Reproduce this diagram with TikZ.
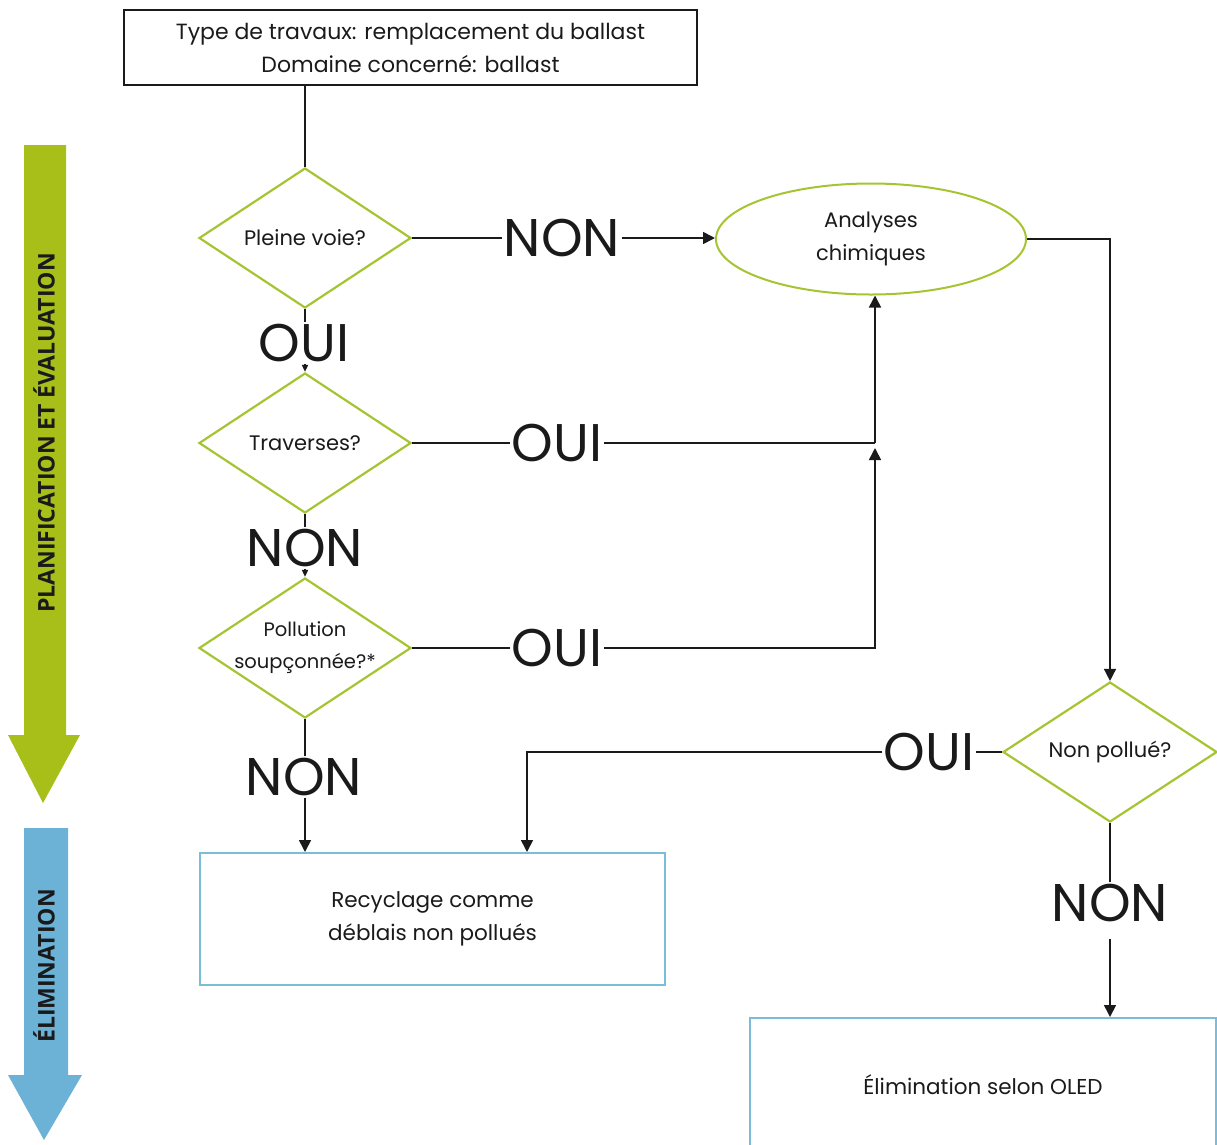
\documentclass[tikz,border=0pt]{standalone}
\usepackage{fontspec}
\setmainfont{Poppins}
\newfontfamily\sidefont{Open Sans}
\usetikzlibrary{shapes.geometric,arrows.meta,calc}
\definecolor{dgreen}{HTML}{A5C432}
\definecolor{agreen}{HTML}{A8BF1A}
\definecolor{ablue}{HTML}{6BB2D6}
\definecolor{bblue}{HTML}{7CBCDB}
\definecolor{ink}{HTML}{1A1A1A}
\begin{document}
\begin{tikzpicture}[x=1pt,y=-1pt,
  line width=1.6pt, draw=ink,
  dec/.style={diamond, draw=dgreen, line width=2.2pt, minimum width=212pt, minimum height=140pt, inner sep=0pt},
  dtext/.style={font=\fontsize{21}{32}\selectfont, align=center, text=ink, inner sep=0pt},
  ell/.style={ellipse, draw=dgreen, line width=2pt, minimum width=310pt, minimum height=111pt, inner sep=0pt, font=\fontsize{21}{33}\selectfont, align=center, text=ink},
  bbox/.style={rectangle, draw=bblue, line width=2pt, inner sep=0pt, font=\fontsize{21.5}{33}\selectfont, align=center, text=ink},
  kbox/.style={rectangle, draw=ink, line width=1.6pt, inner sep=0pt, font=\fontsize{22}{33}\selectfont, align=center, text=ink},
  ans/.style={font=\fontsize{53}{53}\selectfont, inner sep=1pt, text=ink},
  tipbig/.style={-{Triangle[length=12pt,width=12pt]}},
  tipsmall/.style={-{Triangle[length=7pt,width=6pt]}},
  sidetext/.style={rotate=90, font=\sidefont\bfseries\fontsize{23}{23}\selectfont, text=ink, inner sep=0pt}
]
\useasboundingbox (0,0) rectangle (1217,1144);
\clip (0,0) rectangle (1217,1144);

% side arrows
\fill[agreen] (24,145) -- (66,145) -- (66,735) -- (80,735) -- (43,803) -- (8,735) -- (24,735) -- cycle;
\fill[ablue] (24,828) -- (68,828) -- (68,1075) -- (82,1075) -- (44,1140) -- (8,1075) -- (24,1075) -- cycle;
\node[sidetext] (tplan) at (44,433) {PLANIFICATION ET ÉVALUATION};
\node[sidetext] (telim) at (44,966) {ÉLIMINATION};

% nodes
\node[kbox, minimum width=573pt, minimum height=75pt] (top) at (410.5,47.5) {Type de travaux: remplacement du ballast\\Domaine concerné: ballast};
\node[dec, label={[dtext]center:Pleine voie?}] (d1) at (305,238) {};
\node[dec, label={[dtext]center:Traverses?}] (d2) at (305,443) {};
\node[dec, label={[dtext, font=\fontsize{19.5}{32}\selectfont]center:Pollution\\soupçonnée?*}] (d3) at (305,648) {};
\node[dec, minimum width=214pt, label={[dtext]center:Non pollué?}] (d4) at (1110,752) {};
\node[ell] (an) at (871,239) {Analyses\\chimiques};
\node[bbox, minimum width=465pt, minimum height=132pt] (rec) at (432.5,919) {Recyclage comme\\déblais non pollués};
\node[bbox, minimum width=466pt, minimum height=134pt] (elim) at (983,1085) {Élimination selon OLED};

% answer labels
\node[ans] (n1) at (562,238) {NON};
\node[ans] (o1) at (304,343) {OUI};
\node[ans] (o2) at (557,443) {OUI};
\node[ans] (n2) at (305,548) {NON};
\node[ans] (o3) at (557,648) {OUI};
\node[ans] (n3) at (304,777) {NON};
\node[ans] (o4) at (929,752) {OUI};
\node[ans] (n4) at (1110,903) {NON};

\coordinate (j) at (875,443);
\coordinate (j2) at (875,448);
\coordinate (c) at (527,752);

% connectors
\draw (top.south -| d1) -- (d1.north);
\draw (d1.east) -- (n1.west);
\draw[tipbig] (n1.east) -- (n1.east -| an.west);
\draw (d1.south) -- (o1.north -| d1);
\draw[tipsmall] (o1.south -| d1) -- (d2.north);
\draw (d2.east) -- (o2.west);
\draw (o2.east) -- (j);
\draw[tipbig] (j) -- (j |- an.south);
\draw (d2.south) -- (n2.north -| d2);
\draw[tipsmall] (n2.south -| d2) -- (d3.north);
\draw (d3.east) -- (o3.west);
\draw[tipbig] (o3.east) -| (j2);
\draw[tipbig] (an.east) -| (d4.north);
\draw (d4.west) -- (o4.east);
\draw[tipbig] (o4.west) -- (c) -- (c |- rec.north);
\draw (d3.south) -- (n3.north -| d3);
\draw[tipbig] (n3.south -| d3) -- (d3 |- rec.north);
\draw (d4.south) -- (n4.north -| d4);
\draw[tipbig] ($(n4.south -| d4)+(0,15)$) -- (d4 |- elim.north);
\end{tikzpicture}
\end{document}
